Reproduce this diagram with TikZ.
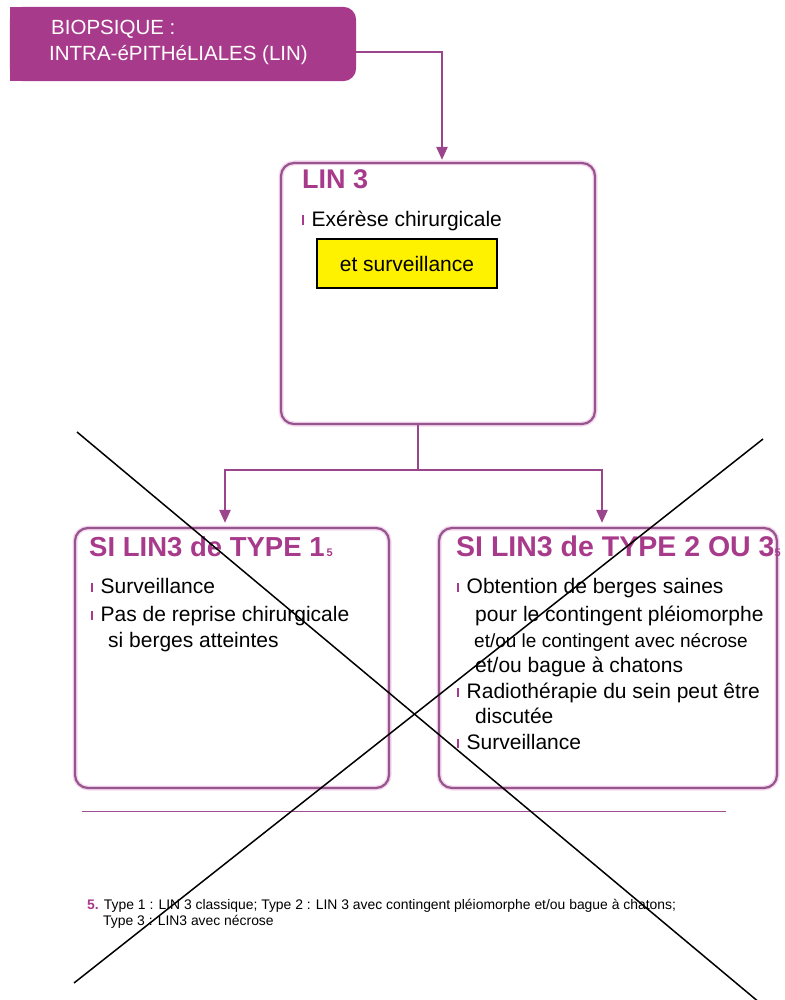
\documentclass[tikz,border=0pt]{standalone}
\usepackage{fontspec}
\setmainfont{Liberation Sans}
\usetikzlibrary{arrows.meta}
\definecolor{mag}{RGB}{168,58,140}
\definecolor{conn}{RGB}{155,70,140}
\definecolor{bord}{RGB}{150,85,140}
\definecolor{glow}{RGB}{245,215,238}
\definecolor{rulec}{RGB}{160,80,145}
\newcommand{\bul}{\makebox[9.5pt][l]{\textcolor{mag}{\rule[1pt]{1.8pt}{9.5pt}}}}
\newcommand{\fs}[1]{\fontsize{#1}{#1}\selectfont}
\begin{document}
\begin{tikzpicture}[x=1pt,y=-1pt,
  box/.style={draw=bord,line width=2.2pt,rounded corners=13pt,inner sep=0pt,
    preaction={draw=glow,line width=5pt}},
  txt/.style={anchor=base west,inner sep=0pt,font=\fs{21}},
  small/.style={anchor=base west,inner sep=0pt,font=\fs{19}},
  ttl/.style={anchor=base west,inner sep=0pt,text=mag,font=\bfseries\fs{27.5}},
  wtxt/.style={anchor=base west,inner sep=0pt,text=white,font=\fs{20.5}},
  foot/.style={anchor=base west,inner sep=0pt,font=\fs{13.9}},
  arr/.style={draw=conn,line width=2.4pt,-{Triangle[length=13pt,width=11pt]}},
  lnk/.style={draw=conn,line width=2.4pt},
  cross/.style={draw=black,line width=1.5pt}]
\useasboundingbox (0,0) rectangle (784,1000);

% top box
\node[minimum width=346pt,minimum height=74pt,inner sep=0pt] (bio) at (183,44) {};
\fill[mag,rounded corners=13pt] (bio.north west) rectangle (bio.south east);
\fill[mag] (bio.north west) rectangle (bio.south);
\node[wtxt] (b1) at (51,35) {BIOPSIQUE :};
\node[wtxt] (b2) at (49,61) {INTRA-éPITHéLIALES (LIN)};

% LIN 3 box
\node[box,minimum width=314pt,minimum height=261pt] (lin3) at (438,293.5) {};
\node[ttl,font=\bfseries\fs{27}] (l3t) at (302,189) {LIN 3};
\node[txt] (l3a) at (302,226) {\bul Exérèse chirurgicale};
\node[draw=black,fill=yellow,line width=1.3pt,minimum width=180pt,minimum height=49pt,inner sep=0pt,font=\fs{21}] (ys) at (407,263.5) {et surveillance};

% type 1 box
\node[box,minimum width=314pt,minimum height=260pt] (t1) at (232,658) {};
\node[ttl] (t1t) at (89,556) {SI LIN3 de TYPE 1\hspace{2pt}{\fs{11}5}};
\node[txt] (t1a) at (91,593) {\bul Surveillance};
\node[txt] (t1b) at (91,621) {\bul Pas de reprise chirurgicale};
\node[txt] (t1c) at (108,647) {si berges atteintes};

% type 2/3 box
\node[box,minimum width=338pt,minimum height=260pt] (t2) at (608,658) {};
\node[ttl,font=\bfseries\fs{28.5}] (t2t) at (456,556) {SI LIN3 de TYPE 2 OU 3{\fs{11}5}};
\node[txt] (t2a) at (457,593) {\bul Obtention de berges saines};
\node[txt] (t2b) at (475,621) {pour le contingent pléiomorphe};
\node[small] (t2c) at (474,647) {et/ou le contingent avec nécrose};
\node[txt] (t2d) at (475,672) {et/ou bague à chatons};
\node[txt] (t2e) at (457,698) {\bul Radiothérapie du sein peut être};
\node[txt] (t2f) at (475,723) {discutée};
\node[txt] (t2g) at (457,749) {\bul Surveillance};

% connectors
\draw[arr,shorten >=2pt] ([yshift=-8pt]bio.east) -| ([xshift=4pt]lin3.north);
\coordinate (j) at (418,470);
\draw[lnk] (lin3.south -| j) -- (j);
\draw[arr,shorten >=4pt] (j) -| ([xshift=-7pt]t1.north);
\draw[arr,shorten >=4pt] (j) -| ([xshift=-6pt]t2.north);

% rule and footnote
\coordinate (r1) at (82,811);
\coordinate (r2) at (726,811);
\draw[rulec,line width=0.9pt] (r1) -- (r2);
\node[foot] (fn1) at (87,909) {\textcolor{mag}{\bfseries 5.} Type 1 : LIN 3 classique; Type 2 : LIN 3 avec contingent pléiomorphe et/ou bague à chatons;};
\node[foot] (fn2) at (103,925) {Type 3 : LIN3 avec nécrose};

% crossing lines
\coordinate (xa1) at (77,432);
\coordinate (xa2) at (760,1003);
\coordinate (xb1) at (763,439);
\coordinate (xb2) at (74,983);
\draw[cross] (xa1) -- (xa2);
\draw[cross] (xb1) -- (xb2);
\end{tikzpicture}
\end{document}
